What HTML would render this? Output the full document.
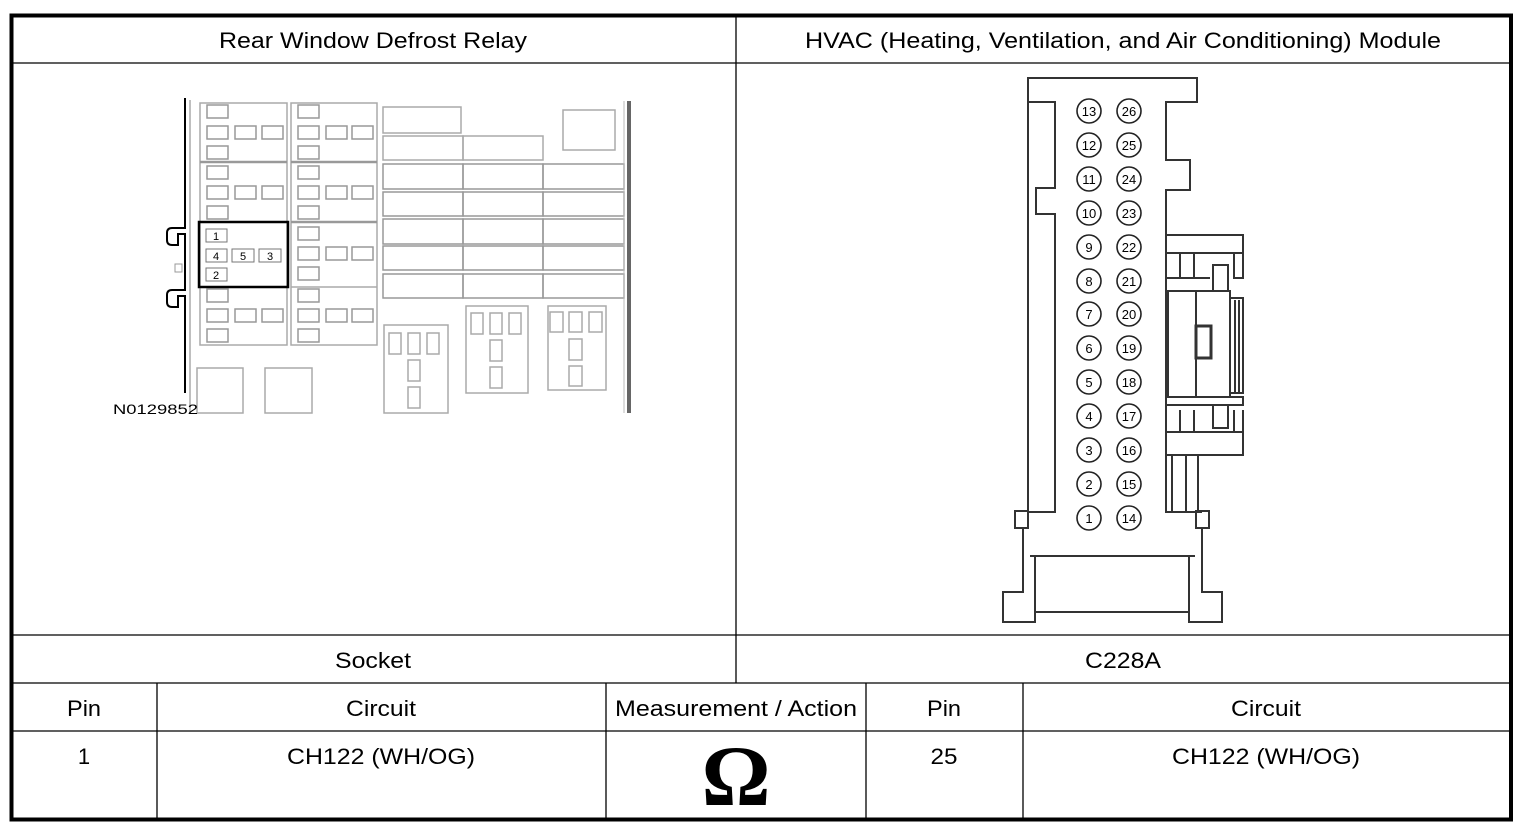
<!DOCTYPE html>
<html><head><meta charset="utf-8"><style>
html,body{margin:0;padding:0;background:#fff;}
svg{display:block;}
text{font-family:"Liberation Sans",Arial,sans-serif;fill:#000;}
</style></head><body>
<svg width="1526" height="830" viewBox="0 0 1526 830" xmlns="http://www.w3.org/2000/svg">
<rect x="0" y="0" width="1526" height="830" fill="#fff"/>
<g stroke="#000" stroke-width="1.3" fill="none">
<line x1="12" y1="63" x2="1511" y2="63"/>
<line x1="12" y1="635" x2="1511" y2="635"/>
<line x1="12" y1="683" x2="1511" y2="683"/>
<line x1="12" y1="731" x2="1511" y2="731"/>
<line x1="736" y1="16" x2="736" y2="683"/>
<line x1="157" y1="683" x2="157" y2="820"/>
<line x1="606" y1="683" x2="606" y2="820"/>
<line x1="866" y1="683" x2="866" y2="820"/>
<line x1="1023" y1="683" x2="1023" y2="820"/>
</g>
<rect x="11.5" y="15.5" width="1499.5" height="804" fill="none" stroke="#000" stroke-width="4"/>
<g font-size="22" text-anchor="middle" lengthAdjust="spacingAndGlyphs">
<text x="373" y="48" textLength="308" lengthAdjust="spacingAndGlyphs">Rear Window Defrost Relay</text>
<text x="1123" y="48" textLength="636" lengthAdjust="spacingAndGlyphs">HVAC (Heating, Ventilation, and Air Conditioning) Module</text>
<text x="373" y="668" textLength="76" lengthAdjust="spacingAndGlyphs">Socket</text>
<text x="1123" y="668" textLength="76" lengthAdjust="spacingAndGlyphs">C228A</text>
<text x="84" y="716" textLength="34" lengthAdjust="spacingAndGlyphs">Pin</text>
<text x="381" y="716" textLength="70" lengthAdjust="spacingAndGlyphs">Circuit</text>
<text x="736" y="716" textLength="242" lengthAdjust="spacingAndGlyphs">Measurement / Action</text>
<text x="944" y="716" textLength="34" lengthAdjust="spacingAndGlyphs">Pin</text>
<text x="1266" y="716" textLength="70" lengthAdjust="spacingAndGlyphs">Circuit</text>
<text x="84" y="764">1</text>
<text x="381" y="764" textLength="188" lengthAdjust="spacingAndGlyphs">CH122 (WH/OG)</text>
<text x="944" y="764" textLength="27" lengthAdjust="spacingAndGlyphs">25</text>
<text x="1266" y="764" textLength="188" lengthAdjust="spacingAndGlyphs">CH122 (WH/OG)</text>
</g>
<text x="736" y="805" font-size="86" font-weight="bold" text-anchor="middle" style="font-family:'Liberation Serif',serif">Ω</text>

<g fill="none" stroke="#aaa" stroke-width="1.5">
<line x1="190" y1="100" x2="190" y2="413"/>
<rect x="200" y="103" width="87" height="242"/>
<rect x="291" y="103" width="86" height="242"/>
<line x1="200" y1="162" x2="287" y2="162" stroke="#999" stroke-width="2.5"/>
<line x1="291" y1="162" x2="377" y2="162" stroke="#999" stroke-width="2.5"/>
<line x1="291" y1="222" x2="377" y2="222" stroke="#999" stroke-width="2.5"/>
<line x1="200" y1="287" x2="287" y2="287"/>
<line x1="291" y1="287" x2="377" y2="287"/>
<g stroke="#999">
<rect x="207" y="105" width="21" height="13"/><rect x="207" y="126" width="21" height="13"/><rect x="235" y="126" width="21" height="13"/><rect x="262" y="126" width="21" height="13"/><rect x="207" y="146" width="21" height="13"/>
<rect x="207" y="166" width="21" height="13"/><rect x="207" y="186" width="21" height="13"/><rect x="235" y="186" width="21" height="13"/><rect x="262" y="186" width="21" height="13"/><rect x="207" y="206" width="21" height="13"/>
<rect x="207" y="289" width="21" height="13"/><rect x="207" y="309" width="21" height="13"/><rect x="235" y="309" width="21" height="13"/><rect x="262" y="309" width="21" height="13"/><rect x="207" y="329" width="21" height="13"/>
<rect x="298" y="105" width="21" height="13"/><rect x="298" y="126" width="21" height="13"/><rect x="326" y="126" width="21" height="13"/><rect x="352" y="126" width="21" height="13"/><rect x="298" y="146" width="21" height="13"/>
<rect x="298" y="166" width="21" height="13"/><rect x="298" y="186" width="21" height="13"/><rect x="326" y="186" width="21" height="13"/><rect x="352" y="186" width="21" height="13"/><rect x="298" y="206" width="21" height="13"/>
<rect x="298" y="227" width="21" height="13"/><rect x="298" y="247" width="21" height="13"/><rect x="326" y="247" width="21" height="13"/><rect x="352" y="247" width="21" height="13"/><rect x="298" y="267" width="21" height="13"/>
<rect x="298" y="289" width="21" height="13"/><rect x="298" y="309" width="21" height="13"/><rect x="326" y="309" width="21" height="13"/><rect x="352" y="309" width="21" height="13"/><rect x="298" y="329" width="21" height="13"/>
</g>
<rect x="383" y="107" width="78" height="26"/>
<rect x="563" y="110" width="52" height="40"/>
<rect x="383" y="136" width="80" height="24"/>
<rect x="463" y="136" width="80" height="24"/>
<g stroke="#999">
<rect x="383" y="164" width="80" height="25"/><rect x="463" y="164" width="80" height="25"/><rect x="543" y="164" width="81" height="25"/>
<rect x="383" y="192" width="80" height="24"/><rect x="463" y="192" width="80" height="24"/><rect x="543" y="192" width="81" height="24"/>
<rect x="383" y="219" width="80" height="25"/><rect x="463" y="219" width="80" height="25"/><rect x="543" y="219" width="81" height="25"/>
<rect x="383" y="246" width="80" height="24"/><rect x="463" y="246" width="80" height="24"/><rect x="543" y="246" width="81" height="24"/>
<rect x="383" y="274" width="80" height="24"/><rect x="463" y="274" width="80" height="24"/><rect x="543" y="274" width="81" height="24"/>
</g>
<rect x="384" y="325" width="64" height="88"/>
<rect x="389" y="333" width="12" height="21"/><rect x="408" y="333" width="12" height="21"/><rect x="427" y="333" width="12" height="21"/>
<rect x="408" y="360" width="12" height="21"/><rect x="408" y="387" width="12" height="21"/>
<rect x="466" y="306" width="62" height="87"/>
<rect x="471" y="313" width="12" height="21"/><rect x="490" y="313" width="12" height="21"/><rect x="509" y="313" width="12" height="21"/>
<rect x="490" y="340" width="12" height="21"/><rect x="490" y="367" width="12" height="21"/>
<rect x="548" y="306" width="58" height="84"/>
<rect x="550" y="312" width="13" height="20"/><rect x="569" y="312" width="13" height="20"/><rect x="589" y="312" width="13" height="20"/>
<rect x="569" y="339" width="13" height="21"/><rect x="569" y="366" width="13" height="20"/>
<rect x="197" y="368" width="46" height="45"/>
<rect x="265" y="368" width="47" height="45"/>
</g>
<line x1="629" y1="101" x2="629" y2="413" stroke="#666" stroke-width="4"/>
<line x1="624" y1="101" x2="624" y2="413" stroke="#bbb" stroke-width="1"/>
<path d="M185 98 V228 H172 Q167 228 167 233 V240 Q167 245 172 245 H178 V234 H185 V290 H172 Q167 290 167 295 V302 Q167 307 172 307 H178 V296 H185 V393" fill="none" stroke="#000" stroke-width="2"/>
<rect x="175" y="264" width="7" height="8" fill="none" stroke="#999"/>
<rect x="199" y="222" width="89" height="65" fill="none" stroke="#000" stroke-width="2.5"/>
<g stroke="#777" fill="#fff" stroke-width="1">
<rect x="206" y="229" width="21" height="13"/><rect x="206" y="249" width="21" height="13"/><rect x="232" y="249" width="22" height="13"/><rect x="259" y="249" width="22" height="13"/><rect x="206" y="268" width="21" height="13"/>
</g>
<g font-size="11" text-anchor="middle" fill="#333">
<text x="216" y="240">1</text><text x="216" y="260">4</text><text x="243" y="260">5</text><text x="270" y="260">3</text><text x="216" y="279">2</text>
</g>
<text x="113" y="414" font-size="14" fill="#222" textLength="85" lengthAdjust="spacingAndGlyphs">N0129852</text>

<g fill="none" stroke="#333" stroke-width="2">
<path d="M1028 528 V78 H1197 V102 H1166 V160 H1190 V190 H1166 V512 H1202"/>
<path d="M1028 102 H1055 V188 H1036 V214 H1055 V512 H1028"/>
<path d="M1030 556 H1195"/>
<rect x="1015" y="511" width="13" height="17"/>
<rect x="1196" y="511" width="13" height="17"/>
<path d="M1023 528 V592 H1003 V622 H1035 V556"/>
<path d="M1202 528 V592 H1222 V622 H1189 V556"/>
<path d="M1035 612 H1189"/>
<rect x="1166" y="235" width="77" height="18"/>
<path d="M1166 253 V278 H1210 M1180 253 V278 M1194 253 V278 M1234 253 V278 H1243 V253"/>
<rect x="1213" y="265" width="15" height="26"/>
<rect x="1168" y="291" width="62" height="106"/>
<line x1="1196" y1="291" x2="1196" y2="397"/>
<rect x="1196" y="326" width="15" height="32" stroke-width="3"/>
<rect x="1230" y="298" width="13" height="95"/>
<line x1="1235" y1="300" x2="1235" y2="392"/><line x1="1239" y1="300" x2="1239" y2="392"/>
<rect x="1166" y="397" width="77" height="8"/>
<path d="M1166 405 V432 M1180 410 V432 M1194 410 V432 M1234 410 V432 M1243 410 V432"/>
<rect x="1213" y="405" width="15" height="23"/>
<rect x="1166" y="432" width="77" height="23"/>
<path d="M1172 455 V512 M1186 455 V512 M1198 455 V512"/>
</g>
<g fill="#fff" stroke="#222" stroke-width="1.6">
<circle cx="1089" cy="111" r="12"/><circle cx="1129" cy="111" r="12"/>
<circle cx="1089" cy="145" r="12"/><circle cx="1129" cy="145" r="12"/>
<circle cx="1089" cy="179" r="12"/><circle cx="1129" cy="179" r="12"/>
<circle cx="1089" cy="213" r="12"/><circle cx="1129" cy="213" r="12"/>
<circle cx="1089" cy="247" r="12"/><circle cx="1129" cy="247" r="12"/>
<circle cx="1089" cy="281" r="12"/><circle cx="1129" cy="281" r="12"/>
<circle cx="1089" cy="314" r="12"/><circle cx="1129" cy="314" r="12"/>
<circle cx="1089" cy="348" r="12"/><circle cx="1129" cy="348" r="12"/>
<circle cx="1089" cy="382" r="12"/><circle cx="1129" cy="382" r="12"/>
<circle cx="1089" cy="416" r="12"/><circle cx="1129" cy="416" r="12"/>
<circle cx="1089" cy="450" r="12"/><circle cx="1129" cy="450" r="12"/>
<circle cx="1089" cy="484" r="12"/><circle cx="1129" cy="484" r="12"/>
<circle cx="1089" cy="518" r="12"/><circle cx="1129" cy="518" r="12"/>
</g>
<g font-size="13" text-anchor="middle" fill="#333">
<text x="1089" y="116">13</text><text x="1129" y="116">26</text>
<text x="1089" y="150">12</text><text x="1129" y="150">25</text>
<text x="1089" y="184">11</text><text x="1129" y="184">24</text>
<text x="1089" y="218">10</text><text x="1129" y="218">23</text>
<text x="1089" y="252">9</text><text x="1129" y="252">22</text>
<text x="1089" y="286">8</text><text x="1129" y="286">21</text>
<text x="1089" y="319">7</text><text x="1129" y="319">20</text>
<text x="1089" y="353">6</text><text x="1129" y="353">19</text>
<text x="1089" y="387">5</text><text x="1129" y="387">18</text>
<text x="1089" y="421">4</text><text x="1129" y="421">17</text>
<text x="1089" y="455">3</text><text x="1129" y="455">16</text>
<text x="1089" y="489">2</text><text x="1129" y="489">15</text>
<text x="1089" y="523">1</text><text x="1129" y="523">14</text>
</g>
</svg>
</body></html>
